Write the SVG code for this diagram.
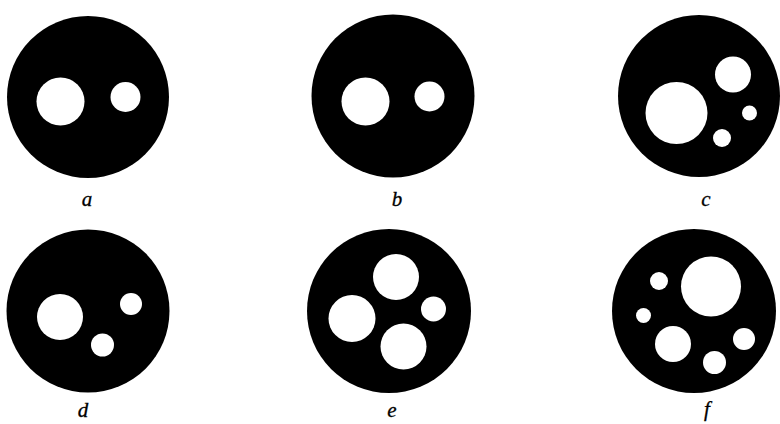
<svg xmlns="http://www.w3.org/2000/svg" width="780" height="424" viewBox="0 0 780 424">
<style>
.disc{fill:#000}
.hole{fill:#fff}
.lbl{font-family:"Liberation Serif","Times New Roman",serif;font-style:italic;font-size:21px;fill:#000;stroke:#000;stroke-width:0.3;text-anchor:middle}
</style>
<rect width="780" height="424" fill="#fff"/>
<g id="fig-a">
<circle class="disc" cx="88" cy="97" r="81"/>
<circle class="hole" cx="60.5" cy="101.5" r="24"/>
<circle class="hole" cx="125.5" cy="97" r="15"/>
<text class="lbl" x="87" y="206">a</text>
</g>
<g id="fig-b">
<circle class="disc" cx="393" cy="96" r="81.5"/>
<circle class="hole" cx="365.5" cy="101.5" r="24"/>
<circle class="hole" cx="429.5" cy="96.5" r="15"/>
<text class="lbl" x="397" y="206">b</text>
</g>
<g id="fig-c">
<circle class="disc" cx="699" cy="96" r="81"/>
<circle class="hole" cx="676.5" cy="113" r="31"/>
<circle class="hole" cx="733" cy="74.5" r="18"/>
<circle class="hole" cx="749.5" cy="113" r="7.5"/>
<circle class="hole" cx="722" cy="138" r="9"/>
<text class="lbl" x="706" y="206">c</text>
</g>
<g id="fig-d">
<circle class="disc" cx="88" cy="311" r="81.5"/>
<circle class="hole" cx="60" cy="317" r="23"/>
<circle class="hole" cx="131" cy="304" r="11"/>
<circle class="hole" cx="102.5" cy="345" r="11.5"/>
<text class="lbl" x="83" y="417">d</text>
</g>
<g id="fig-e">
<circle class="disc" cx="389" cy="311" r="82"/>
<circle class="hole" cx="396" cy="277" r="23"/>
<circle class="hole" cx="352" cy="318.5" r="23.5"/>
<circle class="hole" cx="433.5" cy="309" r="12.5"/>
<circle class="hole" cx="403.5" cy="346.5" r="23"/>
<text class="lbl" x="392" y="417">e</text>
</g>
<g id="fig-f">
<circle class="disc" cx="694" cy="311" r="82"/>
<circle class="hole" cx="711" cy="286.5" r="30"/>
<circle class="hole" cx="659" cy="281" r="9"/>
<circle class="hole" cx="643.5" cy="315.5" r="7.5"/>
<circle class="hole" cx="673" cy="344" r="18"/>
<circle class="hole" cx="714.5" cy="362.5" r="11.5"/>
<circle class="hole" cx="744" cy="339" r="11"/>
<text class="lbl" x="707" y="416">f</text>
</g>
</svg>
